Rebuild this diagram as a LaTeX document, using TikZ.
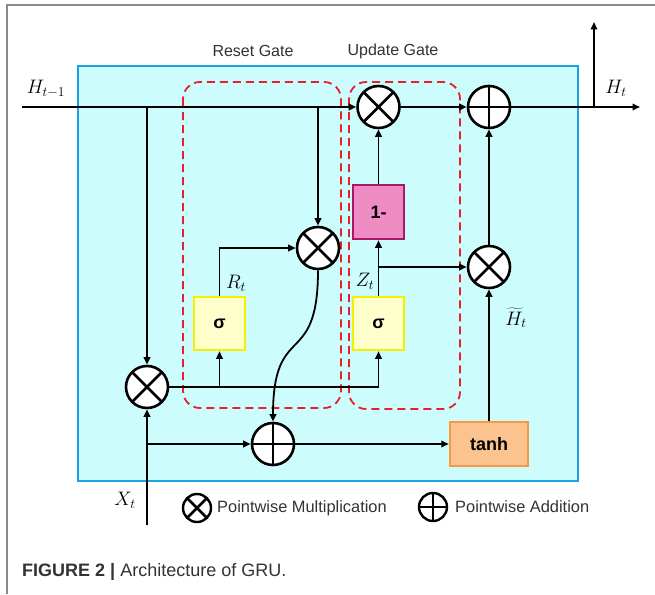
\documentclass[tikz,border=0pt]{standalone}
\usepackage{fontspec}
\setmainfont{Liberation Sans}
\usetikzlibrary{arrows.meta}
\definecolor{cyanfill}{HTML}{CCFCFC}
\definecolor{cyanborder}{HTML}{1AA3E0}
\definecolor{gatered}{HTML}{E8202A}
\definecolor{sigfill}{HTML}{FFFFCC}
\definecolor{sigborder}{HTML}{F5F000}
\definecolor{pinkfill}{HTML}{F08CC4}
\definecolor{pinkborder}{HTML}{A8186A}
\definecolor{orfill}{HTML}{FBC48E}
\definecolor{orborder}{HTML}{F59A40}
\definecolor{txtgray}{HTML}{333333}
\definecolor{framegray}{HTML}{8A8A8A}
\newcommand{\mlbl}[1]{\scalebox{1.13}{$#1$}}
\begin{document}
\begin{tikzpicture}[x=1pt,y=-1pt,
  wire/.style={line width=1.8pt},
  conn/.style={line width=1.8pt,-{Triangle[length=7.5pt,width=6.5pt]}},
  mult/.style={circle,draw,line width=2.6pt,fill=white,minimum size=42pt,inner sep=0pt,
    path picture={\draw[line width=2.6pt] (path picture bounding box.north west) -- (path picture bounding box.south east)
      (path picture bounding box.north east) -- (path picture bounding box.south west);}},
  addn/.style={circle,draw,line width=2.6pt,fill=white,minimum size=42pt,inner sep=0pt,
    path picture={\draw[line width=2.6pt] (path picture bounding box.north) -- (path picture bounding box.south)
      (path picture bounding box.west) -- (path picture bounding box.east);}},
  gatebox/.style={draw=gatered,dash pattern=on 8pt off 5pt,line width=1.8pt,rounded corners=17pt},
  sigbox/.style={draw=sigborder,fill=sigfill,line width=2.5pt,minimum width=51pt,minimum height=53pt,
    inner sep=0pt,font=\bfseries\fontsize{18}{20}\selectfont},
  onebox/.style={draw=pinkborder,fill=pinkfill,line width=2.5pt,minimum width=51pt,minimum height=54pt,
    inner sep=0pt,font=\bfseries\fontsize{18}{20}\selectfont},
  tanhbox/.style={draw=orborder,fill=orfill,line width=2.5pt,minimum width=78pt,minimum height=44pt,
    inner sep=0pt,font=\bfseries\fontsize{18}{20}\selectfont},
  mathlbl/.style={font=\fontsize{17.28}{20}\selectfont,inner sep=0pt,text=black},
  gatelbl/.style={font=\fontsize{16}{19}\selectfont,text=txtgray,inner sep=0pt},
  legtxt/.style={font=\fontsize{16.4}{19}\selectfont,text=txtgray,anchor=west,inner sep=0pt},
  legmult/.style={mult,minimum size=28pt,line width=2.4pt},
  legadd/.style={addn,minimum size=28pt,line width=2.4pt}
]
\useasboundingbox (0,0) rectangle (655,594);
\fill[white] (0,0) rectangle (655,594);
% page frame
\draw[framegray,line width=1.6pt] (7,594) -- (7,5) -- (655,5);
% cell background
\draw[cyanborder,fill=cyanfill,line width=2.5pt] (78,66) rectangle (578,481);
% gate groups
\draw[gatebox] (183,82) rectangle (341,408);
\draw[gatebox] (349,82) rectangle (460,409);
\node[gatelbl] (lreset) at (253,51) {Reset Gate};
\node[gatelbl] (lupdate) at (393,51) {Update Gate};

% operators and boxes
\node[mult] (mone) at (378.5,107) {};
\node[addn] (aout) at (489,107) {};
\node[mult] (mr) at (318,248) {};
\node[mult] (mh) at (489,267) {};
\node[mult] (mx) at (147,387) {};
\node[addn] (ax) at (273,444) {};
\node[sigbox] (sr) at (219.5,323.5) {σ};
\node[sigbox] (sz) at (378.5,323.5) {σ};
\node[onebox] (om) at (378.5,212) {1-};
\node[tanhbox] (th) at (489,444) {tanh};

% free ends
\coordinate (hin) at (22,107);
\coordinate (hout) at (640,107);
\coordinate (hup) at (594,22);
\coordinate (xin) at (147,525);

% connectors
\draw[conn] (hin) -- (mone.west);
\draw[conn] (mx.north |- hin) -- (mx.north);
\draw[conn] (mr.north |- hin) -- (mr.north);
\draw[conn] (sr.north) |- (mr.west);
\draw[conn] (mx.east) -| (sz.south);
\draw[conn] (sr.south |- mx) -- (sr.south);
\draw[conn] (sz.north) -- (om.south);
\draw[conn] (sz.north |- mh) -- (mh.west);
\draw[conn] (om.north) -- (mone.south);
\draw[conn] (mone.east) -- (aout.west);
\draw[conn] (aout.east) -- (hout);
\draw[conn] (hup |- hout) -- (hup);
\draw[conn] (mh.north) -- (aout.south);
\draw[conn] (th.north) -- (mh.south);
\draw[conn] (xin) -- (mx.south);
\draw[conn] (xin |- ax) -- (ax.west);
\draw[conn] (ax.east) -- (th.west);
\draw[conn] (mr.south) .. controls (318,370) and (273,320) .. (ax.north);

% math labels
\node[mathlbl] (lhin) at (46,89) {\mlbl{H_{t-1}}};
\node[mathlbl] (lhout) at (616,88) {\mlbl{H_t}};
\node[mathlbl] (lrt) at (236,283) {\mlbl{R_t}};
\node[mathlbl] (lzt) at (365,281) {\mlbl{Z_t}};
\node[mathlbl] (lht) at (516,318) {\mlbl{\widetilde{H}_t}};
\node[mathlbl] (lxt) at (125,500) {\mlbl{X_t}};

% legend
\node[legmult] (lgm) at (197,508) {};
\node[legtxt] (lgmt) at (217,508) {Pointwise Multiplication};
\node[legadd] (lga) at (433,507) {};
\node[legtxt] (lgat) at (455,507) {Pointwise Addition};

% caption
\node[anchor=west,inner sep=0pt,font=\fontsize{18}{21}\selectfont,text=txtgray] (cap) at (22,572)
  {\textbf{FIGURE 2 |} Architecture of GRU.};
\end{tikzpicture}
\end{document}
